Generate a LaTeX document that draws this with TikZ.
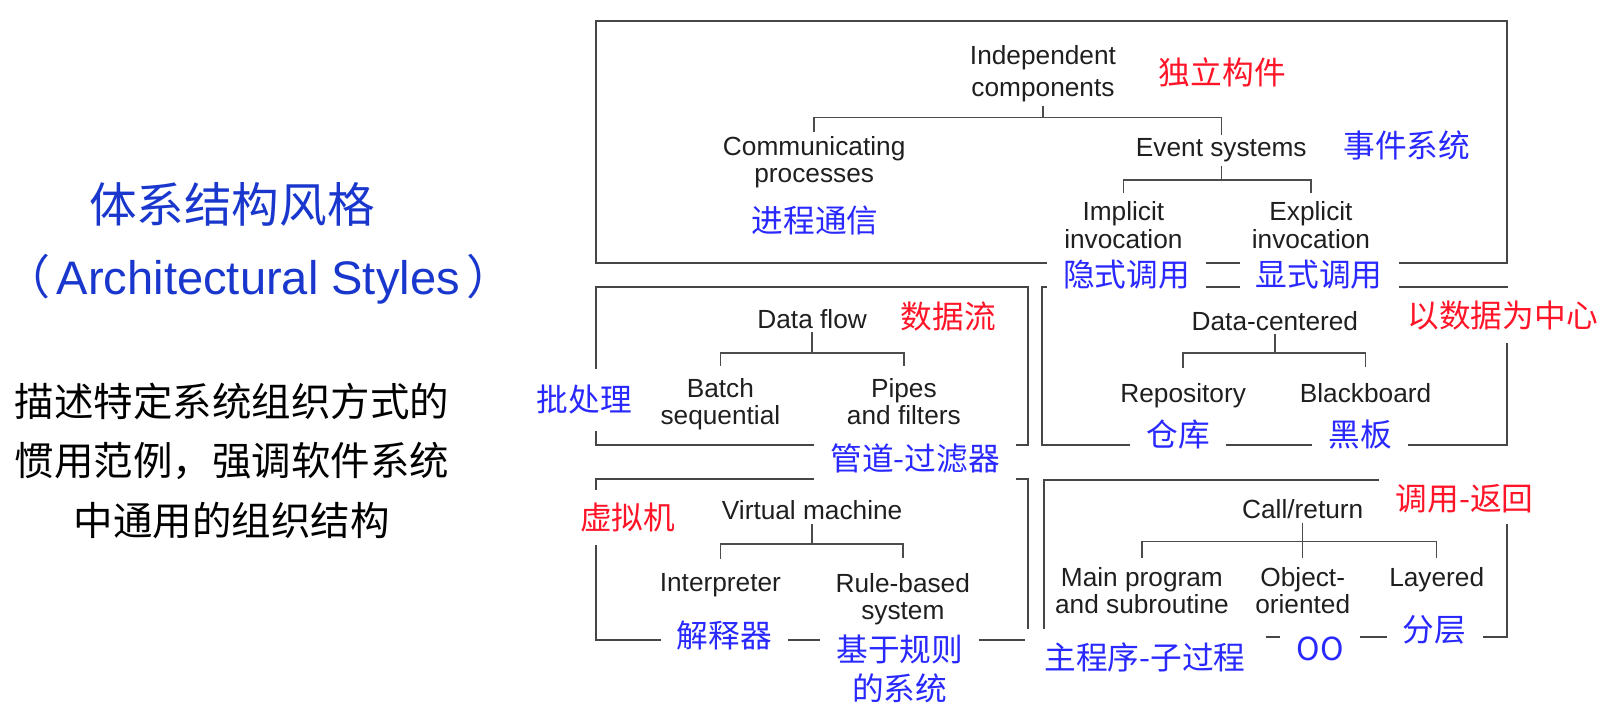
\documentclass[tikz,border=0pt]{standalone}
\usepackage{fontspec}
\setmainfont{Liberation Sans}
\newfontfamily\cjk{Noto Sans CJK SC}
\definecolor{boxgray}{RGB}{70,70,70}
\definecolor{cnblue}{RGB}{40,40,255}
\definecolor{cnred}{RGB}{255,20,40}
\definecolor{titleblue}{RGB}{25,55,205}
\tikzset{
	box/.style={draw=boxgray,line width=1.1pt},
	tline/.style={draw=black!70,line width=0.8pt},
	tnode/.style={align=center,inner sep=2pt,text=black!88,font=\fontsize{14.5}{15}\selectfont},
	cnlab/.style={fill=white,align=center,inner xsep=9pt,inner ysep=3pt,font=\cjk\fontsize{17.5}{21.5}\selectfont},
	cnb/.style={cnlab,text=cnblue},
	cnr/.style={cnlab,text=cnred}
}
\begin{document}
\begin{tikzpicture}[x=0.02cm,y=-0.02cm]
	\useasboundingbox (0,0) rectangle (1568,702.5);
	% left side
	\node[text=titleblue,font=\cjk\fontsize{26.3}{30}\selectfont] (title) at (225,198) {体系结构风格};
	\node[text=titleblue,inner sep=0pt,anchor=west,font=\fontsize{26}{30}\selectfont] (titleen) at (3,271) {{\cjk （}\hspace{3.5pt}Architectural Styles\hspace{3.5pt}{\cjk ）}};
	\node[align=center,font=\cjk\fontsize{21.8}{32.9}\selectfont] (desc) at (225,447) {描述特定系统组织方式的\\惯用范例，强调软件系统\\中通用的组织结构};
	% frames
	\draw[box] (578,20) rectangle (1462,255.5);
	\draw[box] (578,278) rectangle (997.5,431.5);
	\draw[box] (1011,278) rectangle (1462,432);
	\draw[box] (578,465) rectangle (997.5,620.5);
	\draw[box] (1012.5,465.5) rectangle (1462,618);
	% labels, laid over the frames
	\node[cnr] (cnindep) at (1186,70) {独立构件};
	\node[cnb] (cnevent) at (1365,141) {事件系统};
	\node[cnb] (cncomm) at (791,214) {进程通信};
	\node[cnb] (cnimpl) at (1093,266) {隐式调用};
	\node[cnb] (cnexpl) at (1280,266) {显式调用};
	\node[cnr] (cndflow) at (920,307) {数据流};
	\node[cnr,inner ysep=7.1pt] (cndcent) at (1458,306.3) {以数据为中心};
	\node[cnb,inner ysep=9pt] (cnbatch) at (567,388) {批处理};
	\node[cnb,inner ysep=4.3pt] (cnpipes) at (888,445) {管道-过滤器};
	\node[cnb] (cnrepo) at (1143,422) {仓库};
	\node[cnb] (cnblack) at (1320,422) {黑板};
	\node[cnr,inner ysep=7.3pt] (cnvmach) at (609,502) {虚拟机};
	\node[cnb] (cninterp) at (703,617) {解释器};
	\node[cnb] (cnrule) at (873,649) {基于规则\\的系统};
	\node[cnr,inner ysep=5.8pt] (cncallr) at (1421,484) {调用-返回};
	\node[cnb,inner xsep=11pt,inner ysep=7.8pt] (cnmainp) at (1111,638) {主程序-子过程};
	\node[cnb] (cnobj) at (1281,630) {OO};
	\node[cnb] (cnlayer) at (1392,611) {分层};
	% independent components
	\node[tnode] (indep) at (1012,71.5) {Independent\\[2.6pt]components};
	\node[tnode] (comm) at (790,157) {Communicating\\processes};
	\node[tnode] (event) at (1185,146) {Event systems};
	\node[tnode] (impl) at (1090,218.4) {Implicit\\invocation};
	\node[tnode] (expl) at (1272,218.4) {Explicit\\invocation};
	\draw[tline] (indep.south) -- ++(0,11.2) coordinate (ij) -| (comm.north);
	\draw[tline] (ij) -| (event.north);
	\draw[tline,shorten >=2.5pt] (event.south) -- ++(0,13.5) coordinate (ej) -| (impl.north);
	\draw[tline,shorten >=2.5pt] (ej) -| (expl.north);
	% data flow
	\node[tnode] (dflow) at (788,309.2) {Data flow};
	\node[tnode] (batch) at (699,392) {Batch\\sequential};
	\node[tnode] (pipes) at (877,389.4) {Pipes\\and filters};
	\draw[tline,shorten >=4.3pt] (dflow.south) -- ++(0,20.2) coordinate (dj) -| (batch.north);
	\draw[tline,shorten >=4.3pt] (dj) -| (pipes.north);
	% data-centered
	\node[tnode] (dcent) at (1237,311.2) {Data-centered};
	\node[tnode] (repo) at (1148,383.9) {Repository};
	\node[tnode] (black) at (1325,381.2) {Blackboard};
	\draw[tline,shorten >=6.5pt] (dcent.south) -- ++(0,18.2) coordinate (cj) -| (repo.north);
	\draw[tline,shorten >=6.5pt] (cj) -| (black.north);
	% virtual machine
	\node[tnode] (vmach) at (788,495.2) {Virtual machine};
	\node[tnode] (interp) at (699,567.9) {Interpreter};
	\node[tnode] (rule) at (876,581.1) {Rule-based\\system};
	\draw[tline,shorten >=6pt] (vmach.south) -- ++(0,19.2) coordinate (vj) -| (interp.north);
	\draw[tline,shorten >=6pt] (vj) -| (rule.north);
	% call/return
	\node[tnode] (callr) at (1264,494.2) {Call/return};
	\node[tnode] (mainp) at (1108,573.4) {Main program\\and subroutine};
	\node[tnode] (obj) at (1264,573.4) {Object-\\oriented};
	\node[tnode] (layer) at (1394,562.9) {Layered};
	\draw[tline,shorten >=3pt] (callr.south) -- ++(0,18.2) coordinate (rj) -| (mainp.north);
	\draw[tline,shorten >=3pt] (rj) -| (layer.north);
	\draw[tline,shorten >=3pt] (callr.south) -- (obj.north);
\end{tikzpicture}
\end{document}
